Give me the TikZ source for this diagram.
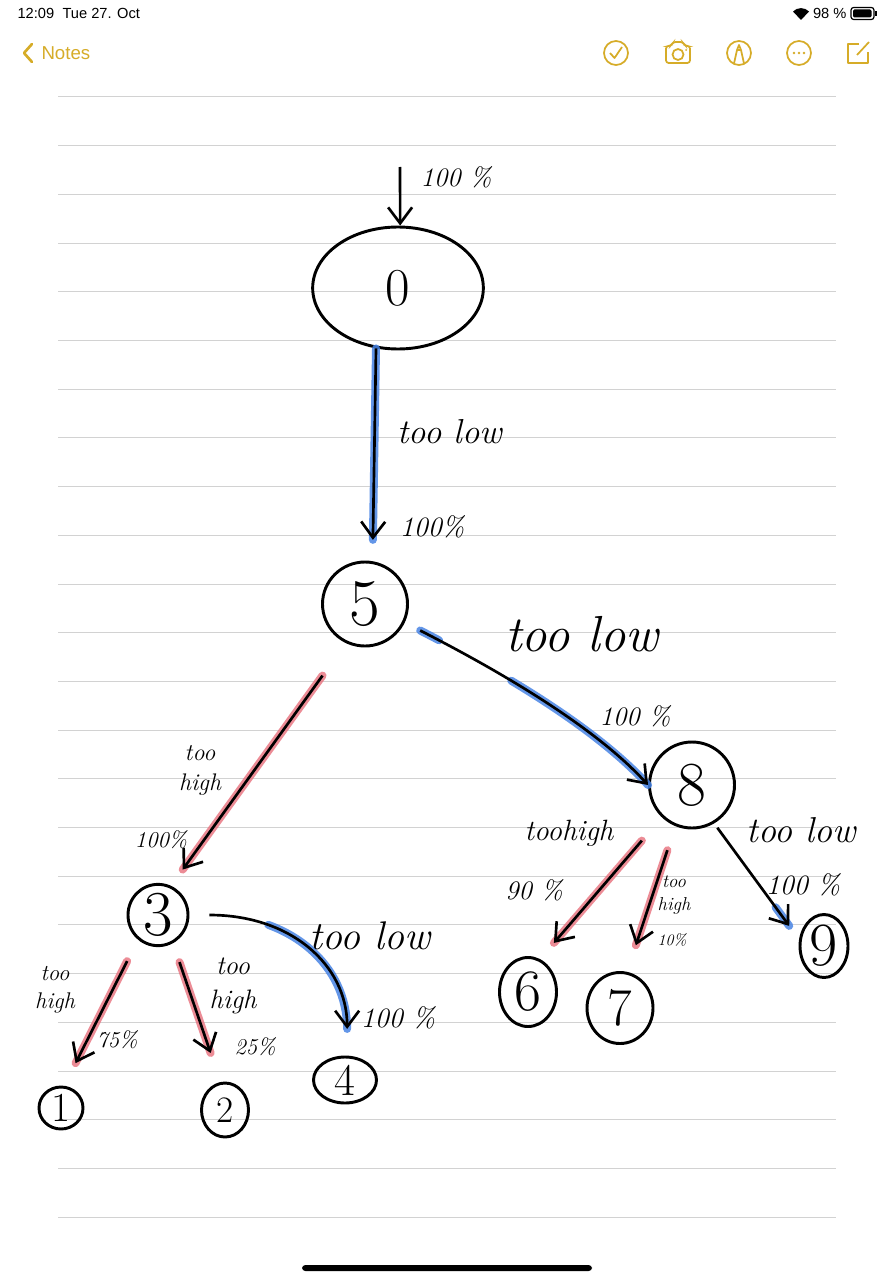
\documentclass[tikz,border=0pt]{standalone}
\usepackage{fontspec}
\usetikzlibrary{arrows.meta,shapes.geometric}
\newfontfamily\uifont{Liberation Sans}

\definecolor{notesyellow}{RGB}{214,172,40}
\definecolor{ruleline}{RGB}{210,210,210}
\definecolor{hlred}{RGB}{232,112,124}
\definecolor{hlblue}{RGB}{72,132,228}

\tikzset{every picture/.style={line width=0.75pt}}
\tikzset{
  guess/.style={draw, ellipse, line width=2.2pt, inner sep=0pt},
  digit/.style={font=\fontsize{#1}{#1}\selectfont},
  hand/.style={font=\itshape\linespread{1.25}\fontsize{#1}{#1}\selectfont, inner sep=0pt, align=center},
  ui/.style={font=\uifont\fontsize{#1}{#1}\selectfont, inner sep=0pt},
  branch/.style={line width=2pt, -{Straight Barb[length=12pt,width=18pt]}},
  hlow/.style={line width=6pt, hlblue, opacity=0.85, line cap=round},
  hhigh/.style={line width=6pt, hlred, opacity=0.8, line cap=round},
  icon/.style={notesyellow, line width=1.3pt},
}

\begin{document}
\begin{tikzpicture}[x=0.75pt,y=0.75pt,yscale=-1,xscale=1]
\useasboundingbox (0,0) rectangle (894,1280);
\fill[white] (0,0) rectangle (894,1280);

% Status bar
\node[ui=11, anchor=west] (clock) at (17,13) {12:09};
\node[ui=11, anchor=west] (date) at (62,13) {Tue 27. Oct};
\node[ui=11, anchor=east] (charge) at (847,13) {98 \%};
% Wifi
\fill (801,20) -- (793,11.5) .. controls (797.5,7) and (804.5,7) .. (809,11.5) -- cycle;
% Battery
\draw[line width=0.9pt, rounded corners=2pt] (851,7.5) rectangle (874,19.5);
\fill[rounded corners=1pt] (853,9.5) rectangle (871.5,17.5);
\fill (875,11) rectangle (877,16);

% Back button
\draw[icon, line width=2pt, line cap=round, line join=round] (32,44) -- (24,53) -- (32,62);
\node[ui=14, text=notesyellow, anchor=west] (back) at (41,53) {Notes};
% Checklist
\draw[icon] (616,53) circle (12);
\draw[icon, line join=round] (610,53) -- (614.5,58) -- (622,47);
% Camera
\draw[icon, rounded corners=2pt] (666,46) -- (671,46) -- (673,42) -- (683,42) -- (685,46) -- (690,46) -- (690,63) -- (666,63) -- cycle;
\draw[icon] (678,54.5) circle (5.5);
\fill[notesyellow] (686,50) circle (1);
% Markup
\draw[icon] (739,53) circle (12);
\draw[icon, line join=round] (734,63.5) -- (737,50) -- (739,45) -- (741,50) -- (744,63.5);
\draw[icon] (737,50) -- (741,50);
% More
\draw[icon] (799,53) circle (12);
\foreach \dx in {-5,0,5}
  \fill[notesyellow] (799+\dx,53) circle (1.4);
% Compose
\draw[icon, line join=round] (859,44) -- (848,44) -- (848,63) -- (868,63) -- (868,52);
\draw[icon] (857,55) -- (869,42);

% Ruled lines
\foreach \i in {0,...,23}
  \draw[ruleline] (58,{97+48.7*\i}) -- (836,{97+48.7*\i});

% Home indicator
\fill[rounded corners=2.5pt] (302,1265) rectangle (592,1271);

% Guesses
\node[guess, digit=40, minimum width=128pt, minimum height=91.5pt] (n0) at (398,288) {0};
\node[guess, digit=50, minimum width=63.75pt, minimum height=63pt] (n5) at (365,604) {5};
\node[guess, digit=47, minimum width=63.75pt, minimum height=64.5pt] (n8) at (692,785) {8};
\node[guess, digit=48, minimum width=45pt, minimum height=45pt] (n3) at (158,915) {3};
\node[guess, digit=31, minimum width=33pt, minimum height=31.5pt] (n1) at (61,1108) {1};
\node[guess, digit=28, minimum width=35.25pt, minimum height=40.5pt] (n2) at (225,1110) {2};
\node[guess, digit=34, minimum width=47.25pt, minimum height=34.5pt] (n4) at (345,1080) {4};
\node[guess, digit=44, minimum width=42.75pt, minimum height=51.75pt] (n6) at (528,992) {6};
\node[guess, digit=40, minimum width=49.5pt, minimum height=53.25pt] (n7) at (620,1008) {7};
\node[guess, digit=46, minimum width=36pt, minimum height=47.25pt] (n9) at (824,946) {9};

% Entry
\coordinate (in0) at (400,167);
\draw[branch] (in0) -- (n0.88);

% 0 -> 5
\draw[hlow, shorten >=16pt] (n0.-110) -- (n5.80);
\draw[branch, shorten >=16pt] (n0.-110) -- (n5.80);
% 5 -> 8
\draw[hlow, shorten <=13pt, dash pattern=on 16pt off 62pt on 400pt off 10pt] (n5.-25) .. controls +(70,36) and +(-60,-66) .. (n8.180);
\draw[branch, shorten <=13pt] (n5.-25) .. controls +(70,36) and +(-60,-66) .. (n8.180);
% 5 -> 3
\draw[hhigh, shorten <=30pt, shorten >=15pt] (n5.-116) -- (n3.66);
\draw[branch, shorten <=30pt, shorten >=15pt] (n5.-116) -- (n3.66);
% 3 -> 1
\draw[hhigh, shorten <=18pt, shorten >=19pt] (n3.-129) -- (n1.82);
\draw[branch, shorten <=18pt, shorten >=19pt] (n3.-129) -- (n1.82);
% 3 -> 2
\draw[hhigh, shorten <=15pt, shorten >=23pt] (n3.-62) -- (n2.99);
\draw[branch, shorten <=15pt, shorten >=23pt] (n3.-62) -- (n2.99);
% 3 -> 4
\draw[hlow, shorten <=15pt, shorten >=20pt, dash pattern=on 400pt off 45pt, dash phase=400pt] (n3.0) .. controls +(102,0) and +(0,-90) .. (n4.85);
\draw[branch, shorten <=15pt, shorten >=20pt] (n3.0) .. controls +(102,0) and +(0,-90) .. (n4.85);
% 8 -> 6
\draw[hhigh, shorten <=23pt, shorten >=16pt] (n8.-133) -- (n6.70);
\draw[branch, shorten <=23pt, shorten >=16pt] (n8.-133) -- (n6.70);
% 8 -> 7
\draw[hhigh, shorten <=19pt, shorten >=21pt] (n8.-112) -- (n7.79);
\draw[branch, shorten <=19pt, shorten >=21pt] (n8.-112) -- (n7.79);
% 8 -> 9
\draw[hlow, shorten <=4pt, shorten >=12.5pt, dash pattern=on 400pt off 74pt, dash phase=400pt] (n8.-60) -- (n9.165);
\draw[branch, shorten <=4pt, shorten >=12.5pt] (n8.-60) -- (n9.165);

% Text Node
\node[hand=20] (t0) at (456,177) {100 \%};
\node[hand=26] (l05) at (450,432) {too low};
\node[hand=21] (p05) at (432,527) {100\%};
\node[hand=38] (l58) at (582,634) {too low};
\node[hand=20] (p58) at (635,716) {100 \%};
\node[hand=18] (l53) at (200,770) {too\\high};
\node[hand=17] (p53) at (161,840) {100\%};
\node[hand=17] (l31) at (55,990) {too\\high};
\node[hand=17] (p31) at (117,1040) {75\%};
\node[hand=20] (l32) at (233,986) {too\\high};
\node[hand=17] (p32) at (255,1047) {25\%};
\node[hand=30] (l34) at (370,936) {too low};
\node[hand=21] (p34) at (398,1018) {100 \%};
\node[hand=22] (l86) at (569,833) {toohigh};
\node[hand=20] (p86) at (534,890) {90 \%};
\node[hand=14] (l87) at (674,895) {too\\high};
\node[hand=12] (p87) at (672,940) {10\%};
\node[hand=27] (l89) at (801,830) {too low};
\node[hand=21] (p89) at (803,885) {100 \%};

\end{tikzpicture}
\end{document}
